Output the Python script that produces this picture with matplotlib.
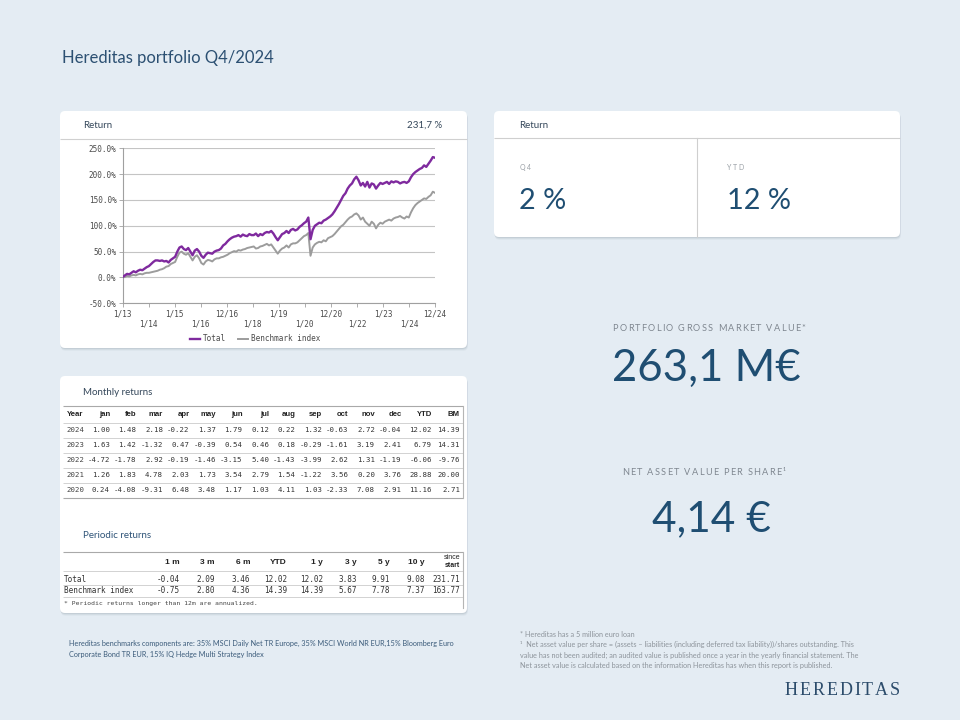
import matplotlib
matplotlib.use('Agg')
import matplotlib.pyplot as plt
from matplotlib.patches import FancyBboxPatch
from matplotlib.font_manager import FontProperties
import numpy as np

# ------------------------------------------------------------------ data
title = "Hereditas portfolio Q4/2024"

x_tick_labels = ['1/13', '1/14', '1/15', '1/16', '12/16', '1/18', '1/19',
                 '1/20', '12/20', '1/22', '1/23', '1/24', '12/24']
y_ticks = [-50, 0, 50, 100, 150, 200, 250]

# cumulative return (%), one value per month, Jan 2013 .. Dec 2024
total_return = [
    1, 4, 7, 6, 9, 12, 10, 13, 15, 14, 17, 20,                      # 2013
    22, 26, 30, 33, 33, 32, 33, 31, 32, 29, 34, 37,                 # 2014
    40, 50, 58, 60, 55, 53, 57, 50, 43, 52, 55, 50,                 # 2015
    42, 38, 44, 48, 47, 46, 50, 52, 53, 56, 62, 65,                 # 2016
    70, 74, 77, 79, 80, 82, 79, 83, 81, 80, 84, 82,                 # 2017
    82, 85, 80, 84, 82, 86, 88, 87, 90, 85, 78, 72,                 # 2018
    78, 84, 86, 90, 86, 92, 94, 91, 93, 98, 101, 105,               # 2019
    108, 116, 74, 92, 100, 103, 106, 105, 110, 112, 115, 118,       # 2020
    122, 128, 135, 142, 150, 158, 163, 172, 178, 182, 190, 195,     # 2021
    188, 178, 183, 176, 185, 174, 182, 180, 172, 178, 183, 181,     # 2022
    183, 185, 181, 186, 184, 186, 185, 182, 184, 185, 183, 186,     # 2023
    194, 200, 204, 207, 210, 212, 217, 214, 220, 226, 233, 231.7,   # 2024
]
benchmark_return = [
    0, 1, 3, 2, 4, 5, 4, 6, 7, 6, 8, 9,                             # 2013
    9, 10, 11, 12, 13, 15, 16, 18, 21, 22, 26, 28,                  # 2014
    30, 40, 48, 50, 46, 44, 47, 40, 33, 40, 43, 37,                 # 2015
    28, 25, 31, 34, 33, 31, 35, 37, 37, 39, 40, 42,                 # 2016
    44, 47, 49, 51, 50, 53, 52, 54, 55, 57, 58, 59,                 # 2017
    60, 56, 57, 60, 61, 63, 65, 62, 64, 58, 52, 46,                 # 2018
    52, 56, 58, 62, 58, 64, 66, 66, 68, 72, 76, 80,                 # 2019
    82, 86, 42, 58, 64, 67, 69, 68, 72, 70, 76, 78,                 # 2020
    80, 84, 89, 94, 99, 102, 107, 112, 116, 118, 122, 124,          # 2021
    120, 112, 116, 108, 104, 100, 108, 104, 95, 102, 106, 104,      # 2022
    108, 110, 112, 110, 114, 116, 117, 119, 116, 114, 118, 116,     # 2023
    126, 134, 140, 144, 147, 150, 153, 152, 156, 159, 166, 163.77,  # 2024
]
series_names = ['Total', 'Benchmark index']

total_return_label = "231,7 %"
q4_return = "2 %"
ytd_return = "12 %"
gross_market_value = "263,1 M€"
nav_per_share = "4,14 €"

month_cols = ['Year', 'jan', 'feb', 'mar', 'apr', 'may', 'jun', 'jul', 'aug',
              'sep', 'oct', 'nov', 'dec', 'YTD', 'BM']
table_years = [2024, 2023, 2022, 2021, 2020]
monthly_2024 = [1.00, 1.48, 2.18, -0.22, 1.37, 1.79, 0.12, 0.22, 1.32, -0.63, 2.72, -0.04, 12.02, 14.39]
monthly_2023 = [1.63, 1.42, -1.32, 0.47, -0.39, 0.54, 0.46, 0.18, -0.29, -1.61, 3.19, 2.41, 6.79, 14.31]
monthly_2022 = [-4.72, -1.78, 2.92, -0.19, -1.46, -3.15, 5.40, -1.43, -3.99, 2.62, 1.31, -1.19, -6.06, -9.76]
monthly_2021 = [1.26, 1.83, 4.78, 2.03, 1.73, 3.54, 2.79, 1.54, -1.22, 3.56, 0.20, 3.76, 28.88, 20.00]
monthly_2020 = [0.24, -4.08, -9.31, 6.48, 3.48, 1.17, 1.03, 4.11, 1.03, -2.33, 7.08, 2.91, 11.16, 2.71]
monthly_rows = [monthly_2024, monthly_2023, monthly_2022, monthly_2021, monthly_2020]

period_cols = ['1 m', '3 m', '6 m', 'YTD', '1 y', '3 y', '5 y', '10 y', 'since\nstart']
period_total = [-0.04, 2.09, 3.46, 12.02, 12.02, 3.83, 9.91, 9.08, 231.71]
period_bench = [-0.75, 2.80, 4.36, 14.39, 14.39, 5.67, 7.78, 7.37, 163.77]
period_note = "* Periodic returns longer than 12m are annualized."

benchmark_note = ["Hereditas benchmarks components are: 35% MSCI Daily Net TR Europe, 35% MSCI World NR EUR,15% Bloomberg Euro",
                  "Corporate Bond TR EUR, 15% IQ Hedge Multi Strategy Index"]
footnotes = ["* Hereditas has a 5 million euro loan",
             "¹  Net asset value per share = (assets – liabilities (including deferred tax liability))/shares outstanding. This",
             "value has not been audited; an audited value is published once a year in the yearly financial statement. The",
             "Net asset value is calculated based on the information Hereditas has when this report is published."]

# ------------------------------------------------------------------ style
BG = '#E4ECF3'
DARK_BLUE = '#1F4E72'
TITLE_BLUE = '#2C5072'
HEAD_TXT = '#34475A'
PURPLE = '#7F2A9E'
GREY_LINE = '#9C9C9C'
SANS = 'Lato'
MONO = 'DejaVu Sans Mono'
TBL_HEAD = 'Liberation Sans'

W, H = 960, 720
fig = plt.figure(figsize=(W / 100, H / 100), dpi=100, facecolor=BG)
bg = fig.add_axes([0, 0, 1, 1])
bg.set_xlim(0, W)
bg.set_ylim(H, 0)
bg.axis('off')
renderer = fig.canvas.get_renderer()


def card(x0, y0, x1, y1):
    for off, a in [(3.0, 0.04), (2.0, 0.07), (1.0, 0.10)]:
        bg.add_patch(FancyBboxPatch((x0 + off * 0.3, y0 + off), x1 - x0, y1 - y0,
                                    boxstyle="round,pad=0,rounding_size=5",
                                    fc='#4A5A6A', ec='none', alpha=a, zorder=1))
    bg.add_patch(FancyBboxPatch((x0, y0), x1 - x0, y1 - y0,
                                boxstyle="round,pad=0,rounding_size=5",
                                fc='white', ec='none', zorder=2))


def adv(ch, fp):
    w1 = renderer.get_text_width_height_descent('H' + ch + 'H', fp, ismath=False)[0]
    w0 = renderer.get_text_width_height_descent('HH', fp, ismath=False)[0]
    return w1 - w0


def spaced(x, y, s, size, spacing, color, family=SANS, ha='left'):
    fp = FontProperties(family=family, size=size)
    ws = [adv(c, fp) for c in s]
    tot = sum(ws) + spacing * (len(s) - 1)
    if ha == 'center':
        x -= tot / 2
    elif ha == 'right':
        x -= tot
    for c, w in zip(s, ws):
        if c != ' ':
            bg.text(x, y, c, fontproperties=fp, color=color, ha='left',
                    va='baseline', zorder=4)
        x += w + spacing


def hline(y, x0, x1, color='#D2D2D2', lw=0.7):
    bg.plot([x0, x1], [y, y], color=color, lw=lw, zorder=3, solid_capstyle='butt')


# ------------------------------------------------------------------ title
bg.text(62, 62.5, title, family=SANS, fontsize=12, color=TITLE_BLUE,
        ha='left', va='baseline', zorder=4)

# ------------------------------------------------------------------ cards
card(60, 111, 467, 348)
card(494, 111, 900, 237)
card(60, 376, 467, 613)

# card 1 header
bg.text(83, 125, 'Return', family=SANS, fontsize=7, color=HEAD_TXT, va='center', zorder=4)
bg.text(442, 125, total_return_label, family=SANS, fontsize=7, color=HEAD_TXT,
        va='center', ha='right', zorder=4)
hline(139.3, 60, 467, color='#D0D0D0', lw=0.8)

# card 2
bg.text(519, 125, 'Return', family=SANS, fontsize=7, color=HEAD_TXT, va='center', zorder=4)
hline(138.3, 494, 900, color='#CFCFCF', lw=0.8)
bg.plot([697.3, 697.3], [138.3, 237], color='#CFCFCF', lw=0.8, zorder=3)
spaced(519.5, 170, 'Q4', 5, 1.5, '#9AA0A6')
spaced(727, 170, 'YTD', 5, 1.5, '#9AA0A6')
bg.text(519, 209, q4_return, family=SANS, fontsize=20.8, color=DARK_BLUE,
        ha='left', va='baseline', zorder=4)
bg.text(727, 209, ytd_return, family=SANS, fontsize=20.8, color=DARK_BLUE,
        ha='left', va='baseline', zorder=4)

# KPI block
spaced(709, 330.7, 'PORTFOLIO GROSS MARKET VALUE*', 6.6, 1.3, '#7F8790', ha='center')
bg.text(706.7, 380.7, gross_market_value, family=SANS, fontsize=31.5, color=DARK_BLUE,
        ha='center', va='baseline', zorder=4)
spaced(704, 475, 'NET ASSET VALUE PER SHARE¹', 6.6, 1.3, '#7F8790', ha='center')
bg.text(711.7, 531.7, nav_per_share, family=SANS, fontsize=30.5, color=DARK_BLUE,
        ha='center', va='baseline', zorder=4)

# ------------------------------------------------------------------ line chart
px0, px1, py0, py1 = 122.7, 435.0, 148.3, 303.3
ax = fig.add_axes([px0 / W, 1 - py1 / H, (px1 - px0) / W, (py1 - py0) / H])
ax.set_facecolor('white')
months = np.arange(len(total_return))
l_b, = ax.plot(months, benchmark_return, color=GREY_LINE, lw=1.4, zorder=3)
l_t, = ax.plot(months, total_return, color=PURPLE, lw=1.7, zorder=4)
ax.set_xlim(months[0], months[-1])
ax.set_ylim(y_ticks[0], y_ticks[-1])
ax.set_yticks(y_ticks)
ax.set_yticklabels([f"{v:.1f}%" for v in y_ticks])
ax.set_xticks(np.linspace(months[0], months[-1], len(x_tick_labels)))
ax.set_xticklabels([lab if i % 2 == 0 else '\n' + lab for i, lab in enumerate(x_tick_labels)],
                   linespacing=1.15)
ax.yaxis.grid(True, color='#C4C4C4', lw=0.8)
ax.set_axisbelow(True)
for s in ['top', 'right']:
    ax.spines[s].set_visible(False)
for s in ['left', 'bottom']:
    ax.spines[s].set_color('#A0A0A0')
    ax.spines[s].set_linewidth(0.8)
ax.tick_params(axis='both', labelsize=5.5, colors='#A0A0A0', labelcolor='#4A4A4A',
               length=3, width=0.6, pad=1.5)
for lab in ax.get_xticklabels() + ax.get_yticklabels():
    lab.set_family(MONO)

fig.legend([l_t, l_b], series_names, loc='center', bbox_to_anchor=(255 / W, 1 - 338.7 / H),
           ncol=2, frameon=False, prop=FontProperties(family=MONO, size=5.5),
           handlelength=1.3, handletextpad=0.4, columnspacing=1.6, labelcolor='#4A4A4A')

# ------------------------------------------------------------------ monthly table
bg.text(83, 392.5, 'Monthly returns', family=SANS, fontsize=7, color=HEAD_TXT,
        va='center', zorder=4)
tx0, tx1 = 63, 463
col_right = [110 + 26.5 * k for k in range(12)] + [432, 460]
row_y0, row_h = 415, 15
table_top = 405.5
hline(table_top, tx0, tx1, color='#A9A9A9', lw=0.8)
bg.text(66.5, row_y0, month_cols[0], family=TBL_HEAD, fontsize=5.6, weight='bold',
        color='#222222', va='center', ha='left', zorder=4)
for name, xr in zip(month_cols[1:], col_right):
    bg.text(xr, row_y0, name, family=TBL_HEAD, fontsize=5.6, weight='bold',
            color='#222222', va='center', ha='right', zorder=4)
for i, (yr, vals) in enumerate(zip(table_years, monthly_rows)):
    y = row_y0 + row_h * (i + 1)
    hline(y - row_h / 2, tx0, tx1)
    bg.text(66.5, y, str(yr), family=MONO, fontsize=5.3, color='#444444',
            va='center', ha='left', zorder=4)
    for v, xr in zip(vals, col_right):
        bg.text(xr, y, f"{v:.2f}", family=MONO, fontsize=5.3, color='#333333',
                va='center', ha='right', zorder=4)
tbl_bottom = row_y0 + row_h * (len(table_years) + 0.5)
hline(tbl_bottom, tx0, tx1, color='#A9A9A9', lw=0.8)
bg.plot([tx1, tx1], [table_top, tbl_bottom], color='#B5B5B5', lw=0.8, zorder=3)

# ------------------------------------------------------------------ periodic table
bg.text(83, 535, 'Periodic returns', family=SANS, fontsize=7, color='#2F5478',
        va='center', zorder=4)
pcol_right = [180, 215, 250, 287, 323, 357, 390, 425, 460]
hline(551.7, tx0, tx1, color='#A9A9A9', lw=0.8)
for name, xr in zip(period_cols, pcol_right):
    if '\n' in name:
        a, b = name.split('\n')
        bg.text(xr, 557.5, a, family=TBL_HEAD, fontsize=5.0, color='#222222',
                va='center', ha='right', zorder=4)
        bg.text(xr, 565.5, b, family=TBL_HEAD, fontsize=5.0, weight='bold', color='#222222',
                va='center', ha='right', zorder=4)
    else:
        bg.text(xr, 562, name, family=TBL_HEAD, fontsize=6.0, weight='bold',
                color='#222222', va='center', ha='right', zorder=4)
hline(571, tx0, tx1)
prow_y = [579, 590.5]
for y, lab, vals in zip(prow_y, series_names, [period_total, period_bench]):
    bg.text(64, y, lab, family=MONO, fontsize=5.5, color='#333333', va='center',
            ha='left', zorder=4)
    for v, xr in zip(vals, pcol_right):
        bg.text(xr, y, f"{v:.2f}", family=MONO, fontsize=5.5, color='#333333',
                va='center', ha='right', zorder=4)
hline(584.7, tx0, tx1)
hline(596.5, tx0, tx1)
bg.text(64, 603, period_note, family=MONO, fontsize=4.6, color='#444444',
        va='center', ha='left', zorder=4)
bg.plot([tx1, tx1], [551.7, 608], color='#B5B5B5', lw=0.8, zorder=3)

# ------------------------------------------------------------------ footnotes
for i, line in enumerate(benchmark_note):
    bg.text(69, 643.5 + i * 10.5, line, family=SANS, fontsize=5.2, color='#3B5B7A',
            va='center', ha='left', zorder=4)
for i, line in enumerate(footnotes):
    bg.text(520, 634.3 + i * 10.5, line, family=SANS, fontsize=5.2, color='#8D949B',
            va='center', ha='left', zorder=4)

spaced(900, 695, 'HEREDITAS', 13, 1.9, '#2C4C6B', family='Liberation Serif', ha='right')

fig.savefig('out.png', dpi=100, facecolor=BG)
